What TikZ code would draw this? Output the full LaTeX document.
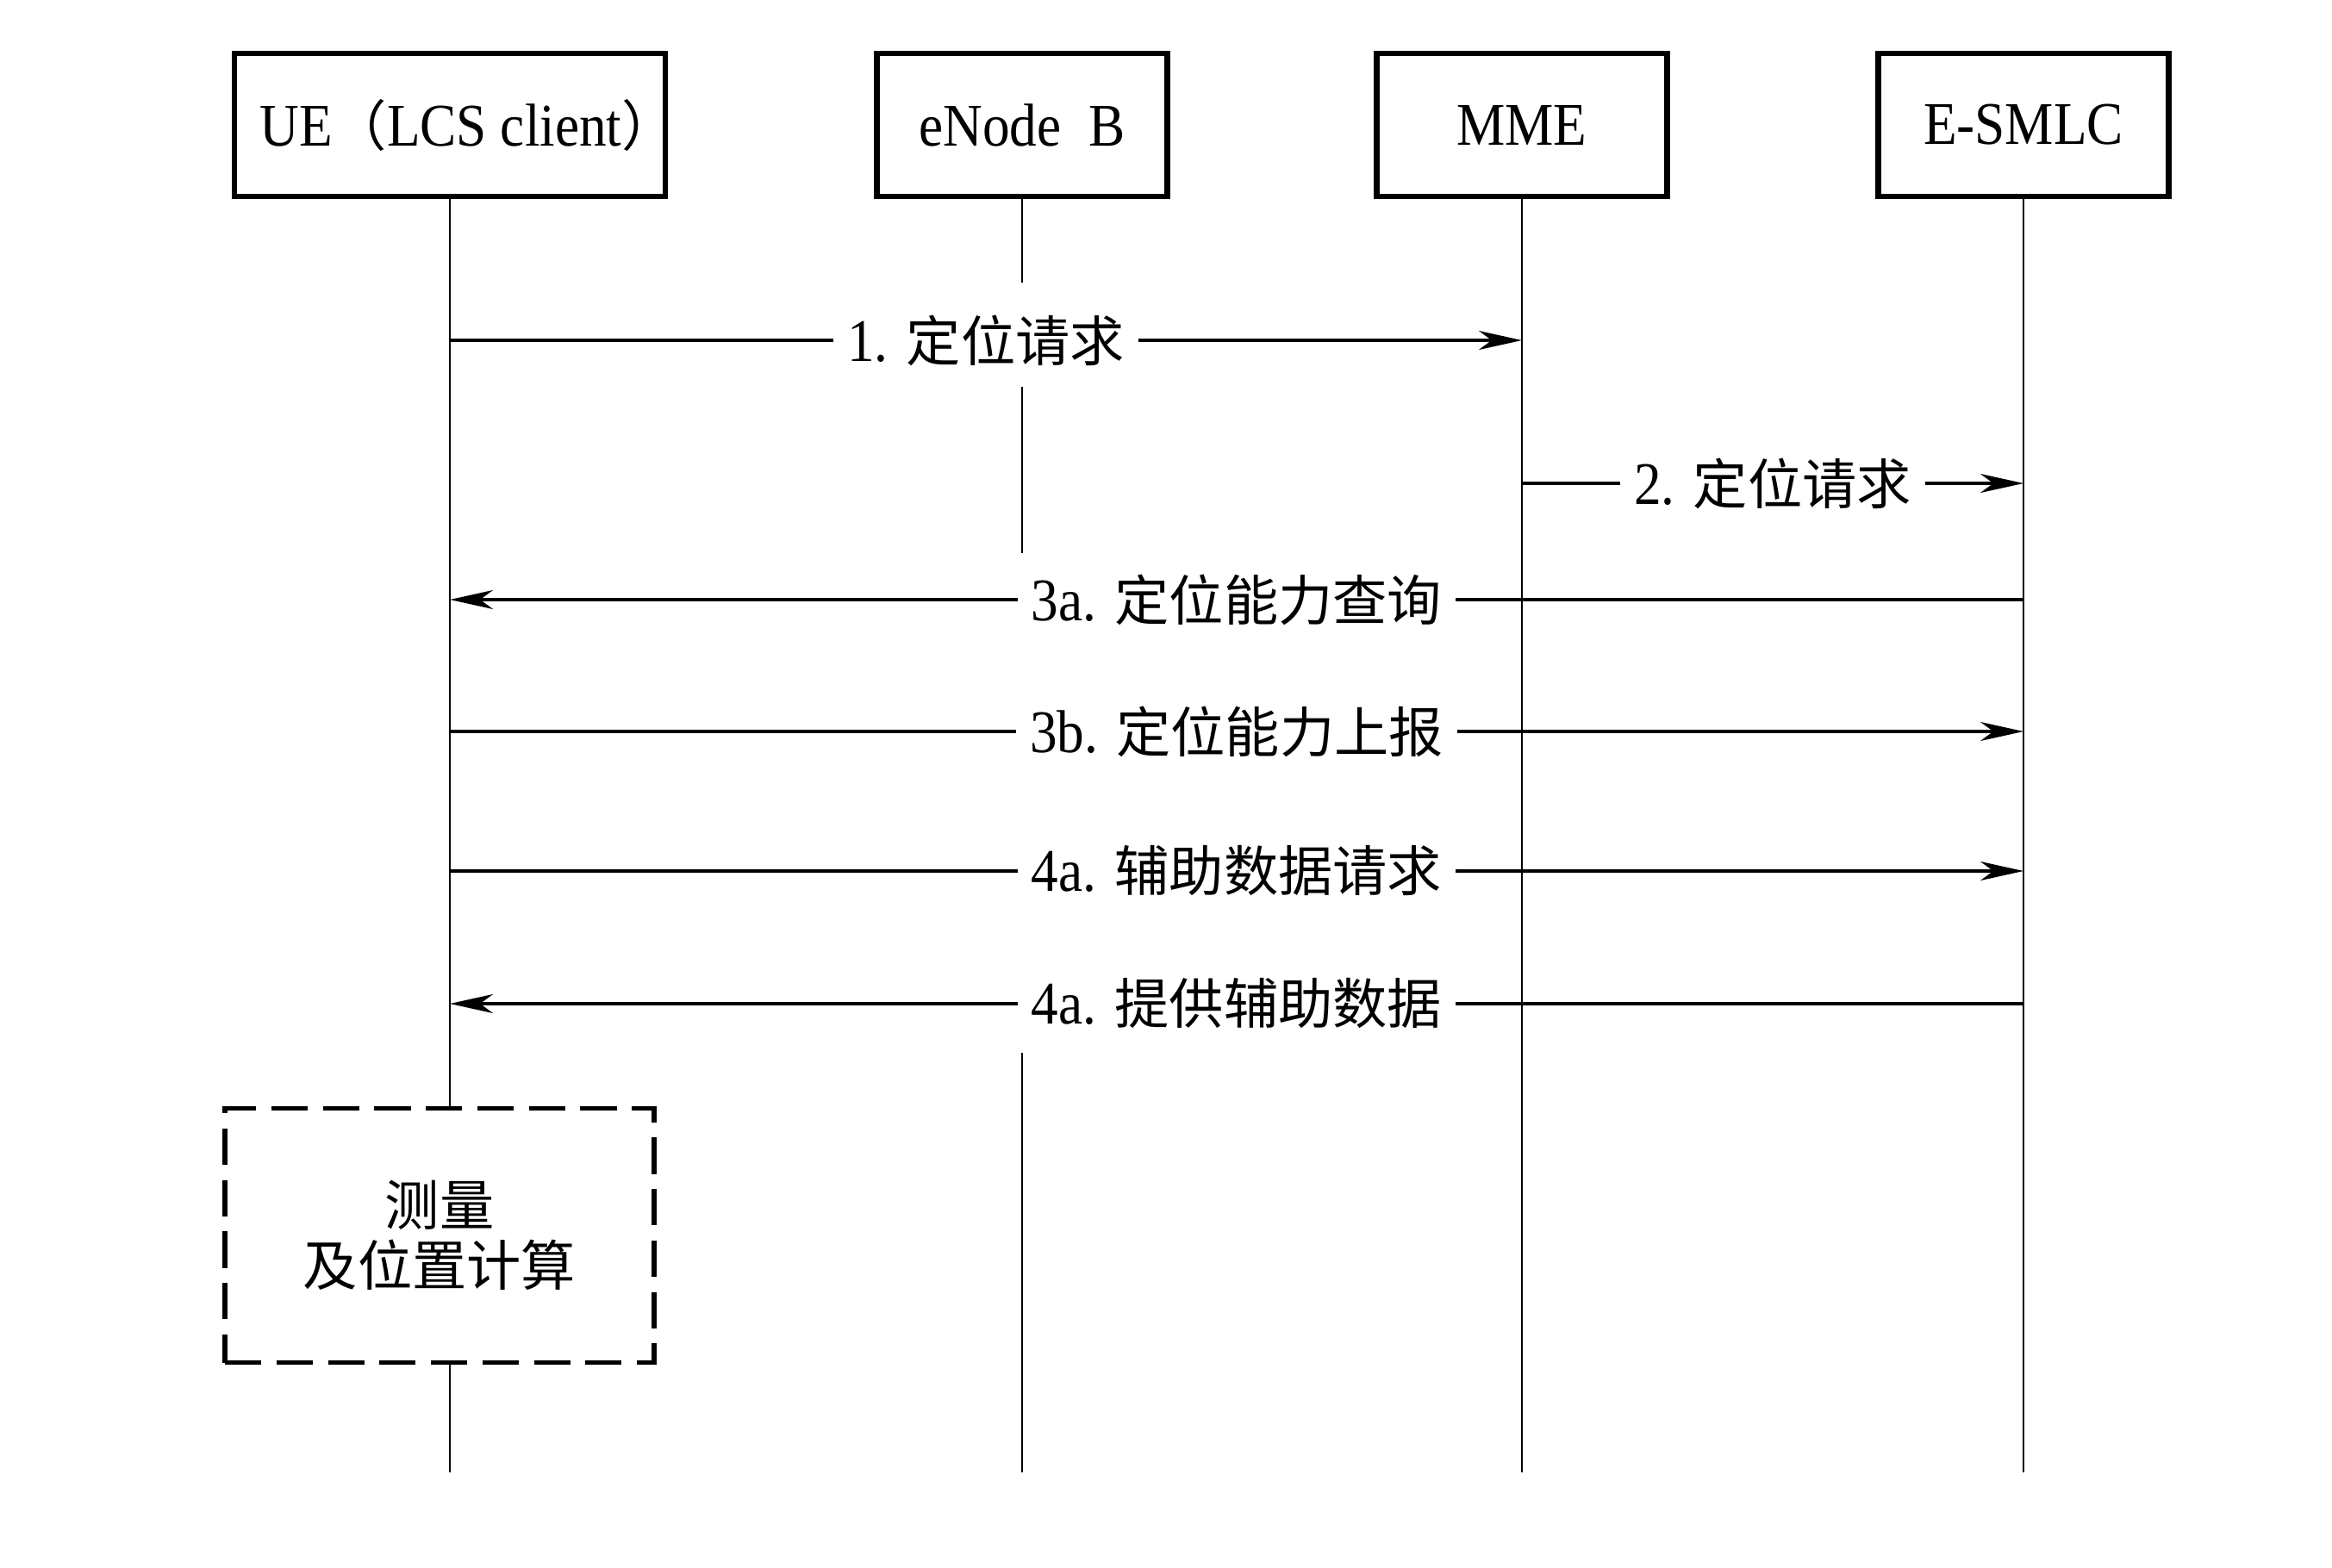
\documentclass[tikz,border=0pt]{standalone}
\usepackage{fontspec}
\setmainfont{Liberation Serif}[FakeStretch=0.9]
\newfontfamily\cjk{Noto Sans CJK SC}[Scale=0.9]
\usetikzlibrary{arrows.meta}

\begin{document}
\begin{tikzpicture}[
    font=\fontsize{20}{20}\selectfont,
    entity/.style={draw, line width=1.8pt, minimum width=3.37cm, minimum height=1.66cm, inner sep=0pt},
    life/.style={line width=0.8pt},
    msg/.style={line width=1pt, -{Stealth[length=5mm, width=2.2mm, inset=1.5mm]}},
    lbl/.style={midway, fill=white, inner xsep=0.16cm, inner ysep=0.1cm},
    calcbox/.style={draw, line width=1.5pt, dash pattern=on 12pt off 5pt,
      minimum width=4.98cm, minimum height=2.95cm, align=center}
  ]
    \useasboundingbox (0,0) rectangle (27.06,-18.19);

    \node [entity, minimum width=5cm] (ue) at (5.22,-1.45)
      {\makebox[4.5cm]{\kern0.6em UE{\cjk （}LCS client{\cjk ）}}};
    \node [entity] (enb) at (11.86,-1.45) {eNode~~B};
    \node [entity] (mme) at (17.66,-1.45) {MME};
    \node [entity] (smlc) at (23.48,-1.45) {E-SMLC};
    \node [calcbox] (calc) at (5.10,-14.34) {{\cjk 测量}\\{\cjk 及位置计算}};
    \coordinate (bottom) at (0,-17.09);

    \draw [life] (ue.south) -- (calc.north -| ue.south);
    \draw [life] (calc.south -| ue.south) -- (ue.south |- bottom);
    \draw [life] (enb.south) -- (enb.south |- 0,-3.28);
    \draw [life] (enb.south |- 0,-4.49) -- (enb.south |- 0,-6.42);
    \draw [life] (enb.south |- 0,-12.22) -- (enb.south |- bottom);
    \draw [life] (mme.south) -- (mme.south |- bottom);
    \draw [life] (smlc.south) -- (smlc.south |- bottom);

    \draw [msg] (ue.south |- 0,-3.95)
      -- (mme.south |- 0,-3.95)
      node [lbl] {1. {\cjk 定位请求}};
    \draw [msg] (mme.south |- 0,-5.61)
      -- (smlc.south |- 0,-5.61)
      node [lbl] {2. {\cjk 定位请求}};
    \draw [msg] (smlc.south |- 0,-6.96)
      -- (ue.south |- 0,-6.96)
      node [lbl] {3a. {\cjk 定位能力查询}};
    \draw [msg] (ue.south |- 0,-8.49)
      -- (smlc.south |- 0,-8.49)
      node [lbl] {3b. {\cjk 定位能力上报}};
    \draw [msg] (ue.south |- 0,-10.11)
      -- (smlc.south |- 0,-10.11)
      node [lbl] {4a. {\cjk 辅助数据请求}};
    \draw [msg] (smlc.south |- 0,-11.65)
      -- (ue.south |- 0,-11.65)
      node [lbl] {4a. {\cjk 提供辅助数据}};
  \end{tikzpicture}
\end{document}
